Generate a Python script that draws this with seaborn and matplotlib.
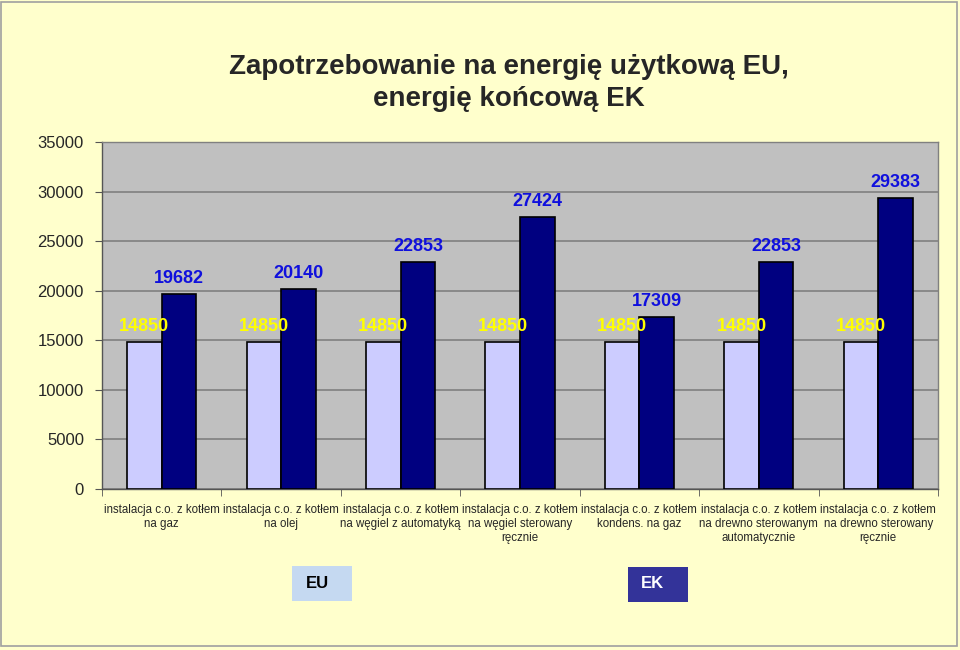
import matplotlib
matplotlib.use("Agg")
import matplotlib.pyplot as plt
import matplotlib.patches as mpatches
import seaborn as sns
import pandas as pd

categories = [
    "instalacja c.o. z kotłem\nna gaz",
    "instalacja c.o. z kotłem\nna olej",
    "instalacja c.o. z kotłem\nna węgiel z automatyką",
    "instalacja c.o. z kotłem\nna węgiel sterowany\nręcznie",
    "instalacja c.o. z kotłem\nkondens. na gaz",
    "instalacja c.o. z kotłem\nna drewno sterowanym\nautomatycznie",
    "instalacja c.o. z kotłem\nna drewno sterowany\nręcznie",
]
eu_values = [14850, 14850, 14850, 14850, 14850, 14850, 14850]
ek_values = [19682, 20140, 22853, 27424, 17309, 22853, 29383]
series = ["EU", "EK"]
yticks = [0, 5000, 10000, 15000, 20000, 25000, 30000, 35000]
title = "Zapotrzebowanie na energię użytkową EU,\nenergię końcową EK"

df = pd.DataFrame({
    "cat": categories * 2,
    "series": ["EU"] * len(categories) + ["EK"] * len(categories),
    "value": eu_values + ek_values,
})

sns.set_style("white")
plt.rcParams['font.family'] = ['Liberation Sans', 'DejaVu Sans']

fig = plt.figure(figsize=(9.6, 6.5), dpi=100, facecolor="#FFFFCC")
ax = fig.add_axes([102/960, 1 - 489/650, (938 - 102)/960, (489 - 142)/650])
ax.set_facecolor("#C0C0C0")

sns.barplot(data=df, x="cat", y="value", hue="series", hue_order=series,
            palette={"EU": "#CCCCFF", "EK": "#000080"}, width=0.58,
            edgecolor="black", linewidth=1.2, saturation=1, ax=ax, legend=False, zorder=3)

ax.set_ylim(0, 35000)
ax.set_xlim(-0.5, len(categories) - 0.5)
ax.set_yticks(yticks)
ax.set_yticklabels([str(v) for v in yticks], fontsize=12)
ax.yaxis.grid(True, color="#808080", linewidth=1.2, zorder=0)
ax.set_axisbelow(True)
ax.set_xlabel("")
ax.set_ylabel("")
ax.tick_params(axis="x", which="major", length=0, labelsize=8.3, pad=11)
ax.tick_params(axis="y", which="major", length=5, color="#555555", direction="out", left=True, pad=8)
ax.set_xticks([i - 0.5 for i in range(len(categories) + 1)], minor=True)
ax.tick_params(axis="x", which="minor", length=5, color="#555555", direction="out", bottom=True)
for lab in ax.get_xticklabels():
    lab.set_linespacing(1.2)

for side in ["top", "right"]:
    ax.spines[side].set_color("#808080")
    ax.spines[side].set_linewidth(1)
for side in ["left", "bottom"]:
    ax.spines[side].set_color("#555555")
    ax.spines[side].set_linewidth(1)

label_colors = ["#FFFF00", "#1010DD"]
for cont, col in zip(ax.containers, label_colors):
    ax.bar_label(cont, labels=[f"{int(v)}" for v in cont.datavalues], padding=5,
                 color=col, fontsize=13, fontweight="bold", zorder=5)

fig.text(509/960, 1 - 83/650, title, ha="center", va="center", fontsize=20,
         fontweight="bold", linespacing=1.3)

# legend boxes
fig.patches.append(mpatches.Rectangle((292/960, 1 - 601/650), 60/960, 35/650,
                   transform=fig.transFigure, facecolor="#C5D9F1", edgecolor="none"))
fig.text(317/960, 1 - 583/650, "EU", ha="center", va="center", fontsize=12,
         fontweight="bold", color="black")
fig.patches.append(mpatches.Rectangle((628/960, 1 - 602/650), 60/960, 35/650,
                   transform=fig.transFigure, facecolor="#333399", edgecolor="none"))
fig.text(652/960, 1 - 584/650, "EK", ha="center", va="center", fontsize=12,
         fontweight="bold", color="white")

# figure border
fig.patches.append(mpatches.Rectangle((1/960, 4/650), 956/960, 644/650,
                   transform=fig.transFigure, facecolor="none", edgecolor="#A0A0A0", linewidth=1.2))

fig.savefig("out.png", dpi=100, facecolor=fig.get_facecolor())
